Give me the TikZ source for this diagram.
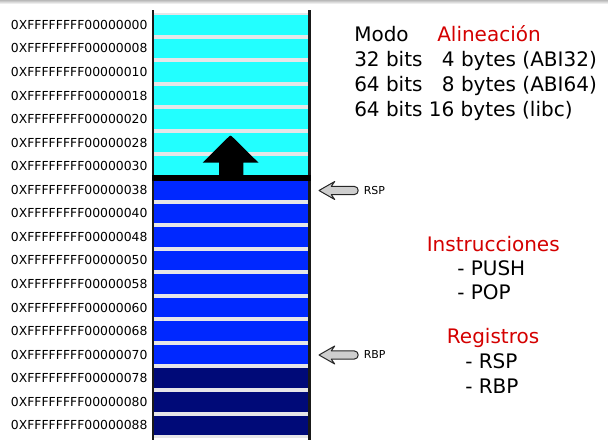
\documentclass[tikz,border=0pt]{standalone}
\usepackage{fontspec}
\setmainfont{DejaVu Sans}
\definecolor{cyanc}{RGB}{34,255,255}
\definecolor{bluec}{RGB}{0,40,255}
\definecolor{navyc}{RGB}{0,10,120}
\definecolor{gapc}{RGB}{230,230,232}
\definecolor{redt}{RGB}{212,0,0}
\definecolor{arrg}{RGB}{206,206,206}
\tikzset{
  cell/.style={draw=none,inner sep=0pt,minimum width=115.5pt,minimum height=14.67pt},
  addr/.style={inner sep=0pt,anchor=east,font=\fontsize{9.3pt}{11pt}\selectfont},
  big/.style={inner sep=0pt,anchor=base west,font=\fontsize{15pt}{18pt}\selectfont},
  reg/.style={inner sep=0pt,anchor=west,font=\fontsize{8.2pt}{10pt}\selectfont},
  wall/.style={line width=1.7pt,color=black!90},
  sidearrow/.style={fill=arrg,draw=black!85,line width=0.75pt,line join=round}
}
\begin{document}
\begin{tikzpicture}[x=0.75pt,y=-0.75pt]
\useasboundingbox (0,0) rectangle (608,446);
\shade[top color=gray!55,bottom color=white] (0,0) rectangle (608,4);
% stack background
\fill[gapc] (154,12.5) rectangle (308,437.5);
\foreach \i/\h in {0/00,1/08,2/10,3/18,4/20,5/28,6/30,7/38,8/40,9/48,10/50,11/58,12/60,13/68,14/70,15/78,16/80,17/88}{
  \ifnum\i<7 \def\cc{cyanc}\else\ifnum\i<15 \def\cc{bluec}\else\def\cc{navyc}\fi\fi
  \node[cell,fill=\cc] (c\i) at (231,{24.84+23.56*\i}) {};
  \node[addr] (l\i) at (147.8,{24.84+23.56*\i}) {0XFFFFFFFF000000\h};
}
% walls
\draw[wall] (152.8,10) -- (152.8,440);
\draw[wall] (309.5,10) -- (309.5,440);
% top of stack line
\draw[line width=4.6pt] (152,178) -- (310.5,178);
% push arrow
\fill (219,178) -- (219,162.7) -- (202.7,162.7) -- (227.7,137.8) .. controls (230.5,135) .. (233.3,137.8) -- (258.5,162.7) -- (243.3,162.7) -- (243.3,178) -- cycle;
% register arrows
\foreach \y/\t/\n in {190.5/RSP/rsp,355/RBP/rbp}{
  \draw[sidearrow] (319,\y) -- (334.7,{\y-9}) -- (331.3,{\y-4.2}) -- (354,{\y-4.2}) .. controls (359.6,{\y-4.2}) and (359.6,{\y+4.2}) .. (354,{\y+4.2}) -- (331.3,{\y+4.2}) -- (334.7,{\y+9}) -- cycle;
  \node[reg] (\n) at (363.5,\y) {\t};
}
% right texts
\node[big] (modo) at (354,41.7) {Modo};
\node[big,text=redt] (alin) at (437,41.7) {Alineación};
\node[big] (m32) at (354,66.5) {32 bits};
\node[big] (a32) at (441.7,66.5) {4 bytes (ABI32)};
\node[big] (m64) at (354,91.5) {64 bits};
\node[big] (a64) at (441.7,91.5) {8 bytes (ABI64)};
\node[big] (libc) at (354,116.5) {64 bits 16 bytes (libc)};
\node[big,text=redt] (instr) at (426.5,251.5) {Instrucciones};
\node[big] (push) at (457,275) {- PUSH};
\node[big] (pop) at (457,299.5) {- POP};
\node[big,text=redt] (regs) at (446.7,343.5) {Registros};
\node[big] (rrsp) at (465,368.5) {- RSP};
\node[big] (rrbp) at (465,393.5) {- RBP};
\end{tikzpicture}
\end{document}
